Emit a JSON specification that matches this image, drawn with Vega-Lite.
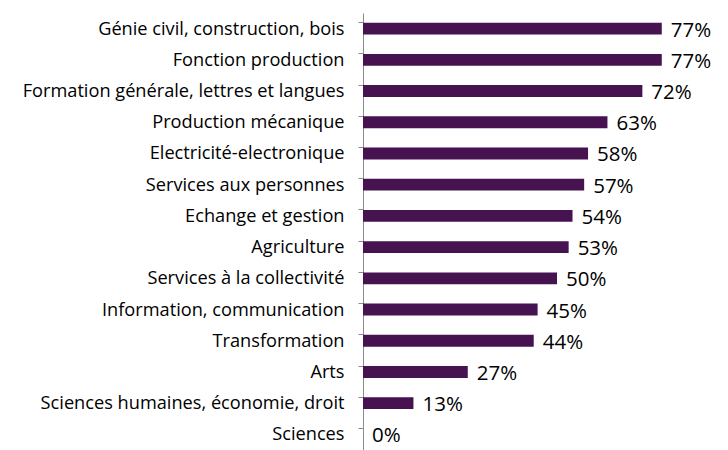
{
  "$schema": "https://vega.github.io/schema/vega-lite/v6.json",
  "autosize": {"type": "none"},
  "padding": {"left": 363, "top": 13, "right": 0, "bottom": 0},
  "width": 365,
  "height": 437,
  "background": "white",
  "config": {"view": {"stroke": null}},
  "data": {"values": [
    {"cat": "Génie civil, construction, bois", "v": 0.77},
    {"cat": "Fonction production", "v": 0.77},
    {"cat": "Formation générale, lettres et langues", "v": 0.72},
    {"cat": "Production mécanique", "v": 0.63},
    {"cat": "Electricité-electronique", "v": 0.58},
    {"cat": "Services aux personnes", "v": 0.57},
    {"cat": "Echange et gestion", "v": 0.54},
    {"cat": "Agriculture", "v": 0.53},
    {"cat": "Services à la collectivité", "v": 0.50},
    {"cat": "Information, communication", "v": 0.45},
    {"cat": "Transformation", "v": 0.44},
    {"cat": "Arts", "v": 0.27},
    {"cat": "Sciences humaines, économie, droit", "v": 0.13},
    {"cat": "Sciences", "v": 0.0}
  ]},
  "encoding": {
    "y": {"field": "cat", "type": "nominal", "sort": null,
      "scale": {"paddingInner": 0.62, "paddingOuter": 0.31},
      "axis": {"title": null, "bandPosition": 0, "tickSize": 5, "tickColor": "#8c8c8c", "domainColor": "#8c8c8c",
        "labelFont": "Open Sans", "labelFontSize": 18.2, "labelColor": "#000000", "labelPadding": 14, "labelLimit": 400, "labelOffset": 1}},
    "x": {"field": "v", "type": "quantitative", "scale": {"domain": [0, 0.9407]}, "axis": null}
  },
  "layer": [
    {"mark": {"type": "bar", "color": "#461250"}},
    {"mark": {"type": "text", "align": "left", "dx": 9, "dy": 2, "font": "Open Sans", "fontSize": 20.5, "color": "#000000"},
     "encoding": {"text": {"field": "v", "type": "quantitative", "format": ".0%"}}}
  ]
}
